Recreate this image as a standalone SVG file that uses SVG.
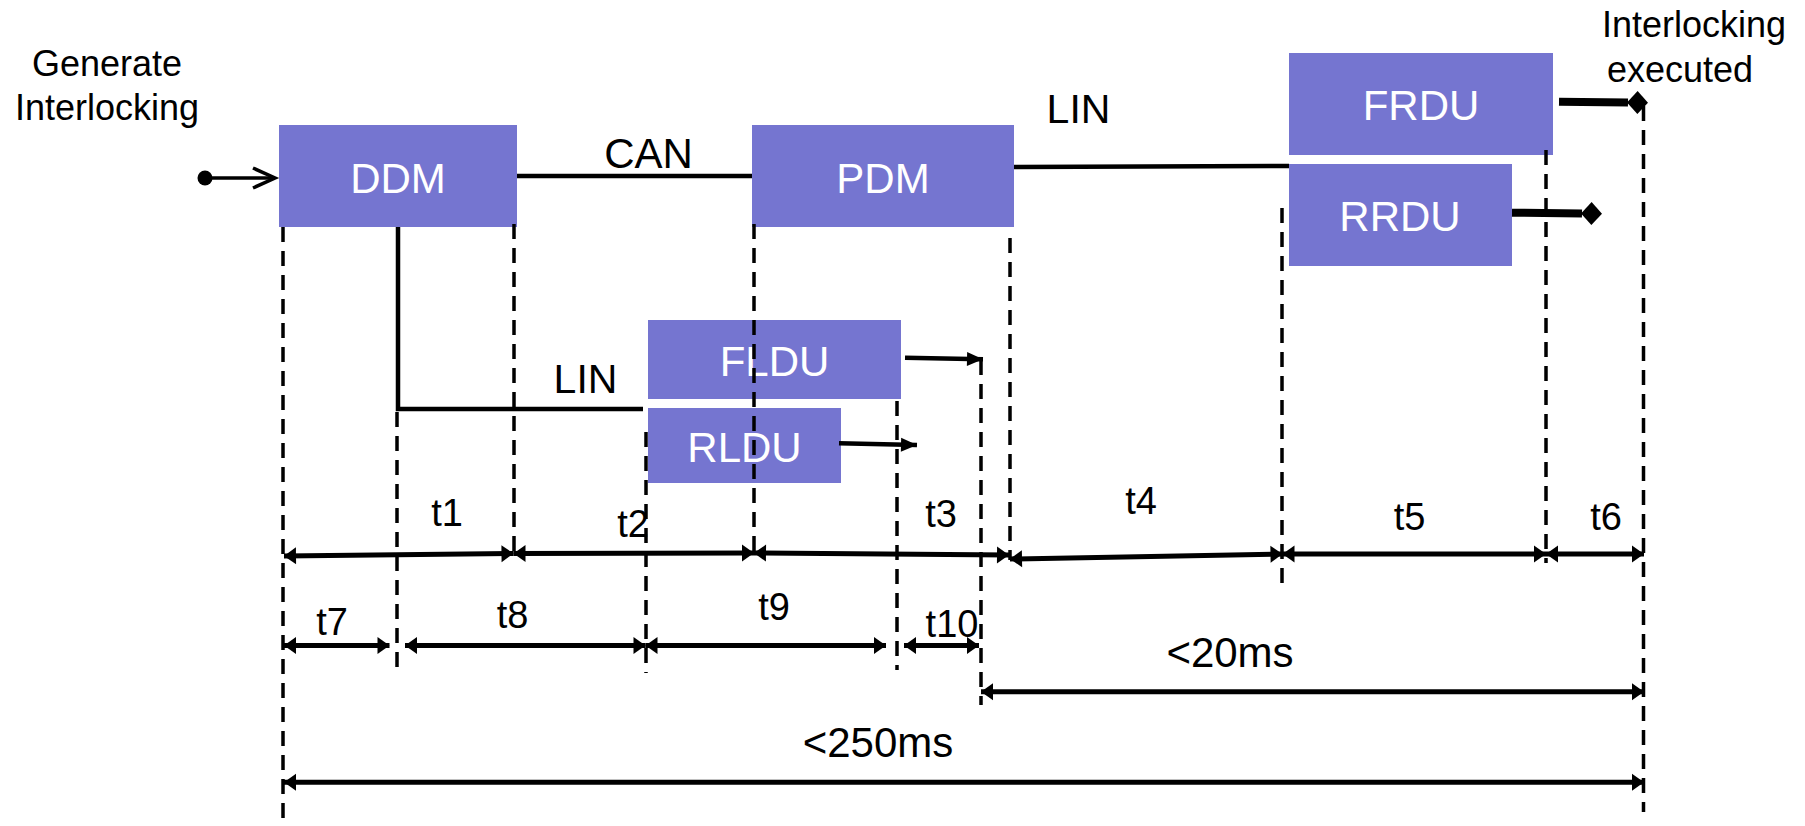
<svg xmlns="http://www.w3.org/2000/svg" width="1805" height="826" viewBox="0 0 1805 826">
<defs>
<style>
marker{overflow:visible}
.box{fill:#7575d0}
.bl{font-family:"Liberation Sans",Arial,sans-serif;font-size:42px;fill:#fff;text-anchor:middle}
.lb{font-family:"Liberation Sans",Arial,sans-serif;fill:#000;text-anchor:middle}
.t{font-size:38px}
.big{font-size:42px}
.cap{font-size:36px}
.bus{stroke:#000;stroke-width:4.5;fill:none}
.dash{stroke:#000;stroke-width:3.5;stroke-dasharray:15 9;fill:none}
.dim{stroke:#000;stroke-width:5;fill:none;marker-start:url(#dh);marker-end:url(#dh)}
.out{stroke:#000;stroke-width:4.5;fill:none;marker-end:url(#ah)}
.fin{stroke:#000;stroke-width:8;fill:none;marker-end:url(#dm)}
.start{stroke:#000;stroke-width:3.5;fill:none;marker-end:url(#ch)}
</style>
<marker id="dh" markerUnits="userSpaceOnUse" markerWidth="14" markerHeight="18" viewBox="0 -9 14 18" refX="12" refY="0" orient="auto-start-reverse"><path d="M0,-8.5 L12,0 L0,8.5 z" fill="#000"/></marker>
<marker id="ah" markerUnits="userSpaceOnUse" markerWidth="18" markerHeight="16" viewBox="0 -8 18 16" refX="16" refY="0" orient="auto"><path d="M0,-7 L16,0 L0,7 z" fill="#000"/></marker>
<marker id="dm" markerUnits="userSpaceOnUse" markerWidth="24" markerHeight="26" viewBox="0 -13 24 26" refX="1" refY="0" orient="auto"><path d="M0,0 L10.5,-11.5 L21,0 L10.5,11.5 z" fill="#000"/></marker>
<marker id="ch" markerUnits="userSpaceOnUse" markerWidth="24" markerHeight="24" viewBox="0 -12 24 24" refX="22" refY="0" orient="auto"><path d="M0,-10 L22,0 L0,10" fill="none" stroke="#000" stroke-width="3.5"/></marker>
</defs>
<rect width="1805" height="826" fill="#fff"/>

<g id="label-generate">
<text class="lb cap" x="107" y="76">Generate</text>
<text class="lb cap" x="107" y="120">Interlocking</text>
</g>
<g id="label-executed">
<text class="lb cap" x="1602" y="37" style="text-anchor:start">Interlocking</text>
<text class="lb cap" x="1607" y="82" style="text-anchor:start">executed</text>
</g>

<g id="ddm"><rect class="box" x="279" y="125" width="238" height="102"/><text class="bl" x="398" y="193">DDM</text></g>
<g id="pdm"><rect class="box" x="752" y="125" width="262" height="102"/><text class="bl" x="883" y="193">PDM</text></g>
<g id="frdu"><rect class="box" x="1289" y="53" width="264" height="102"/><text class="bl" x="1421" y="120">FRDU</text></g>
<g id="rrdu"><rect class="box" x="1289" y="164" width="223" height="102"/><text class="bl" x="1400" y="231">RRDU</text></g>
<g id="fldu"><rect class="box" x="648" y="320" width="253" height="79"/><text class="bl" x="774.5" y="376">FLDU</text></g>
<g id="rldu"><rect class="box" x="648" y="408" width="193" height="75"/><text class="bl" x="744.5" y="462">RLDU</text></g>

<g id="connectors">
<circle cx="205" cy="178" r="7.5" fill="#000"/>
<line class="start" x1="205" y1="178" x2="275" y2="178"/>
<line class="bus" x1="517" y1="176" x2="752" y2="176"/>
<text class="lb big" x="648.5" y="168">CAN</text>
<line class="bus" x1="1014" y1="167" x2="1289" y2="166"/>
<text class="lb" style="font-size:41px" x="1078.5" y="123">LIN</text>
<polyline class="bus" points="398,227 398,409 643,409"/>
<text class="lb" style="font-size:41px" x="585.5" y="393">LIN</text>
<line class="out" x1="905" y1="357.7" x2="983" y2="359.3"/>
<line class="out" x1="839" y1="443.3" x2="917" y2="445"/>
<line class="fin" x1="1559" y1="101.7" x2="1628" y2="102.5"/>
<line class="fin" x1="1512" y1="212.7" x2="1582" y2="213.5"/>

<path class="dash" d="M283,227 V826"/>
<path class="dash" d="M397,412 V673"/>
<path class="dash" d="M514,224 V553"/>
<path class="dash" d="M646,432 V673"/>
<path class="dash" d="M754,224 V556"/>
<path class="dash" d="M897,401 V670"/>
<path class="dash" d="M981,360 V705"/>
<path class="dash" d="M1010,238 V560"/>
<path class="dash" d="M1282,208 V585"/>
<path class="dash" d="M1546,150 V563"/>
<path class="dash" d="M1643.5,106 V812"/>

<line class="dim" x1="284" y1="556" x2="513.5" y2="553.5"/>
<line class="dim" x1="513.5" y1="553.5" x2="754" y2="553"/>
<line class="dim" x1="754" y1="553" x2="1009" y2="555"/>
<line class="dim" x1="1010" y1="559" x2="1282.5" y2="554"/>
<line class="dim" x1="1282.5" y1="554" x2="1546" y2="554"/>
<line class="dim" x1="1546" y1="554" x2="1644" y2="554"/>
<line class="dim" x1="284" y1="645.5" x2="389.5" y2="645.5"/>
<line class="dim" x1="405" y1="645.5" x2="645.5" y2="645.5"/>
<line class="dim" x1="645.5" y1="645.5" x2="886" y2="645.5"/>
<line class="dim" x1="904" y1="645.5" x2="979" y2="645.5"/>
<line class="dim" x1="981" y1="691.7" x2="1644" y2="691.7"/>
<line class="dim" x1="284" y1="782.3" x2="1644" y2="782.3"/>

<text class="lb t" x="447" y="526">t1</text>
<text class="lb t" x="633" y="537">t2</text>
<text class="lb t" x="941" y="527">t3</text>
<text class="lb t" x="1141" y="514">t4</text>
<text class="lb t" x="1409.5" y="530">t5</text>
<text class="lb t" x="1606" y="530">t6</text>
<text class="lb t" x="332" y="635">t7</text>
<text class="lb t" x="512.5" y="628">t8</text>
<text class="lb t" x="774" y="620">t9</text>
<text class="lb t" x="952" y="637">t10</text>
<text class="lb big" x="1230" y="667">&lt;20ms</text>
<text class="lb big" x="878" y="757">&lt;250ms</text>
</g>
</svg>
